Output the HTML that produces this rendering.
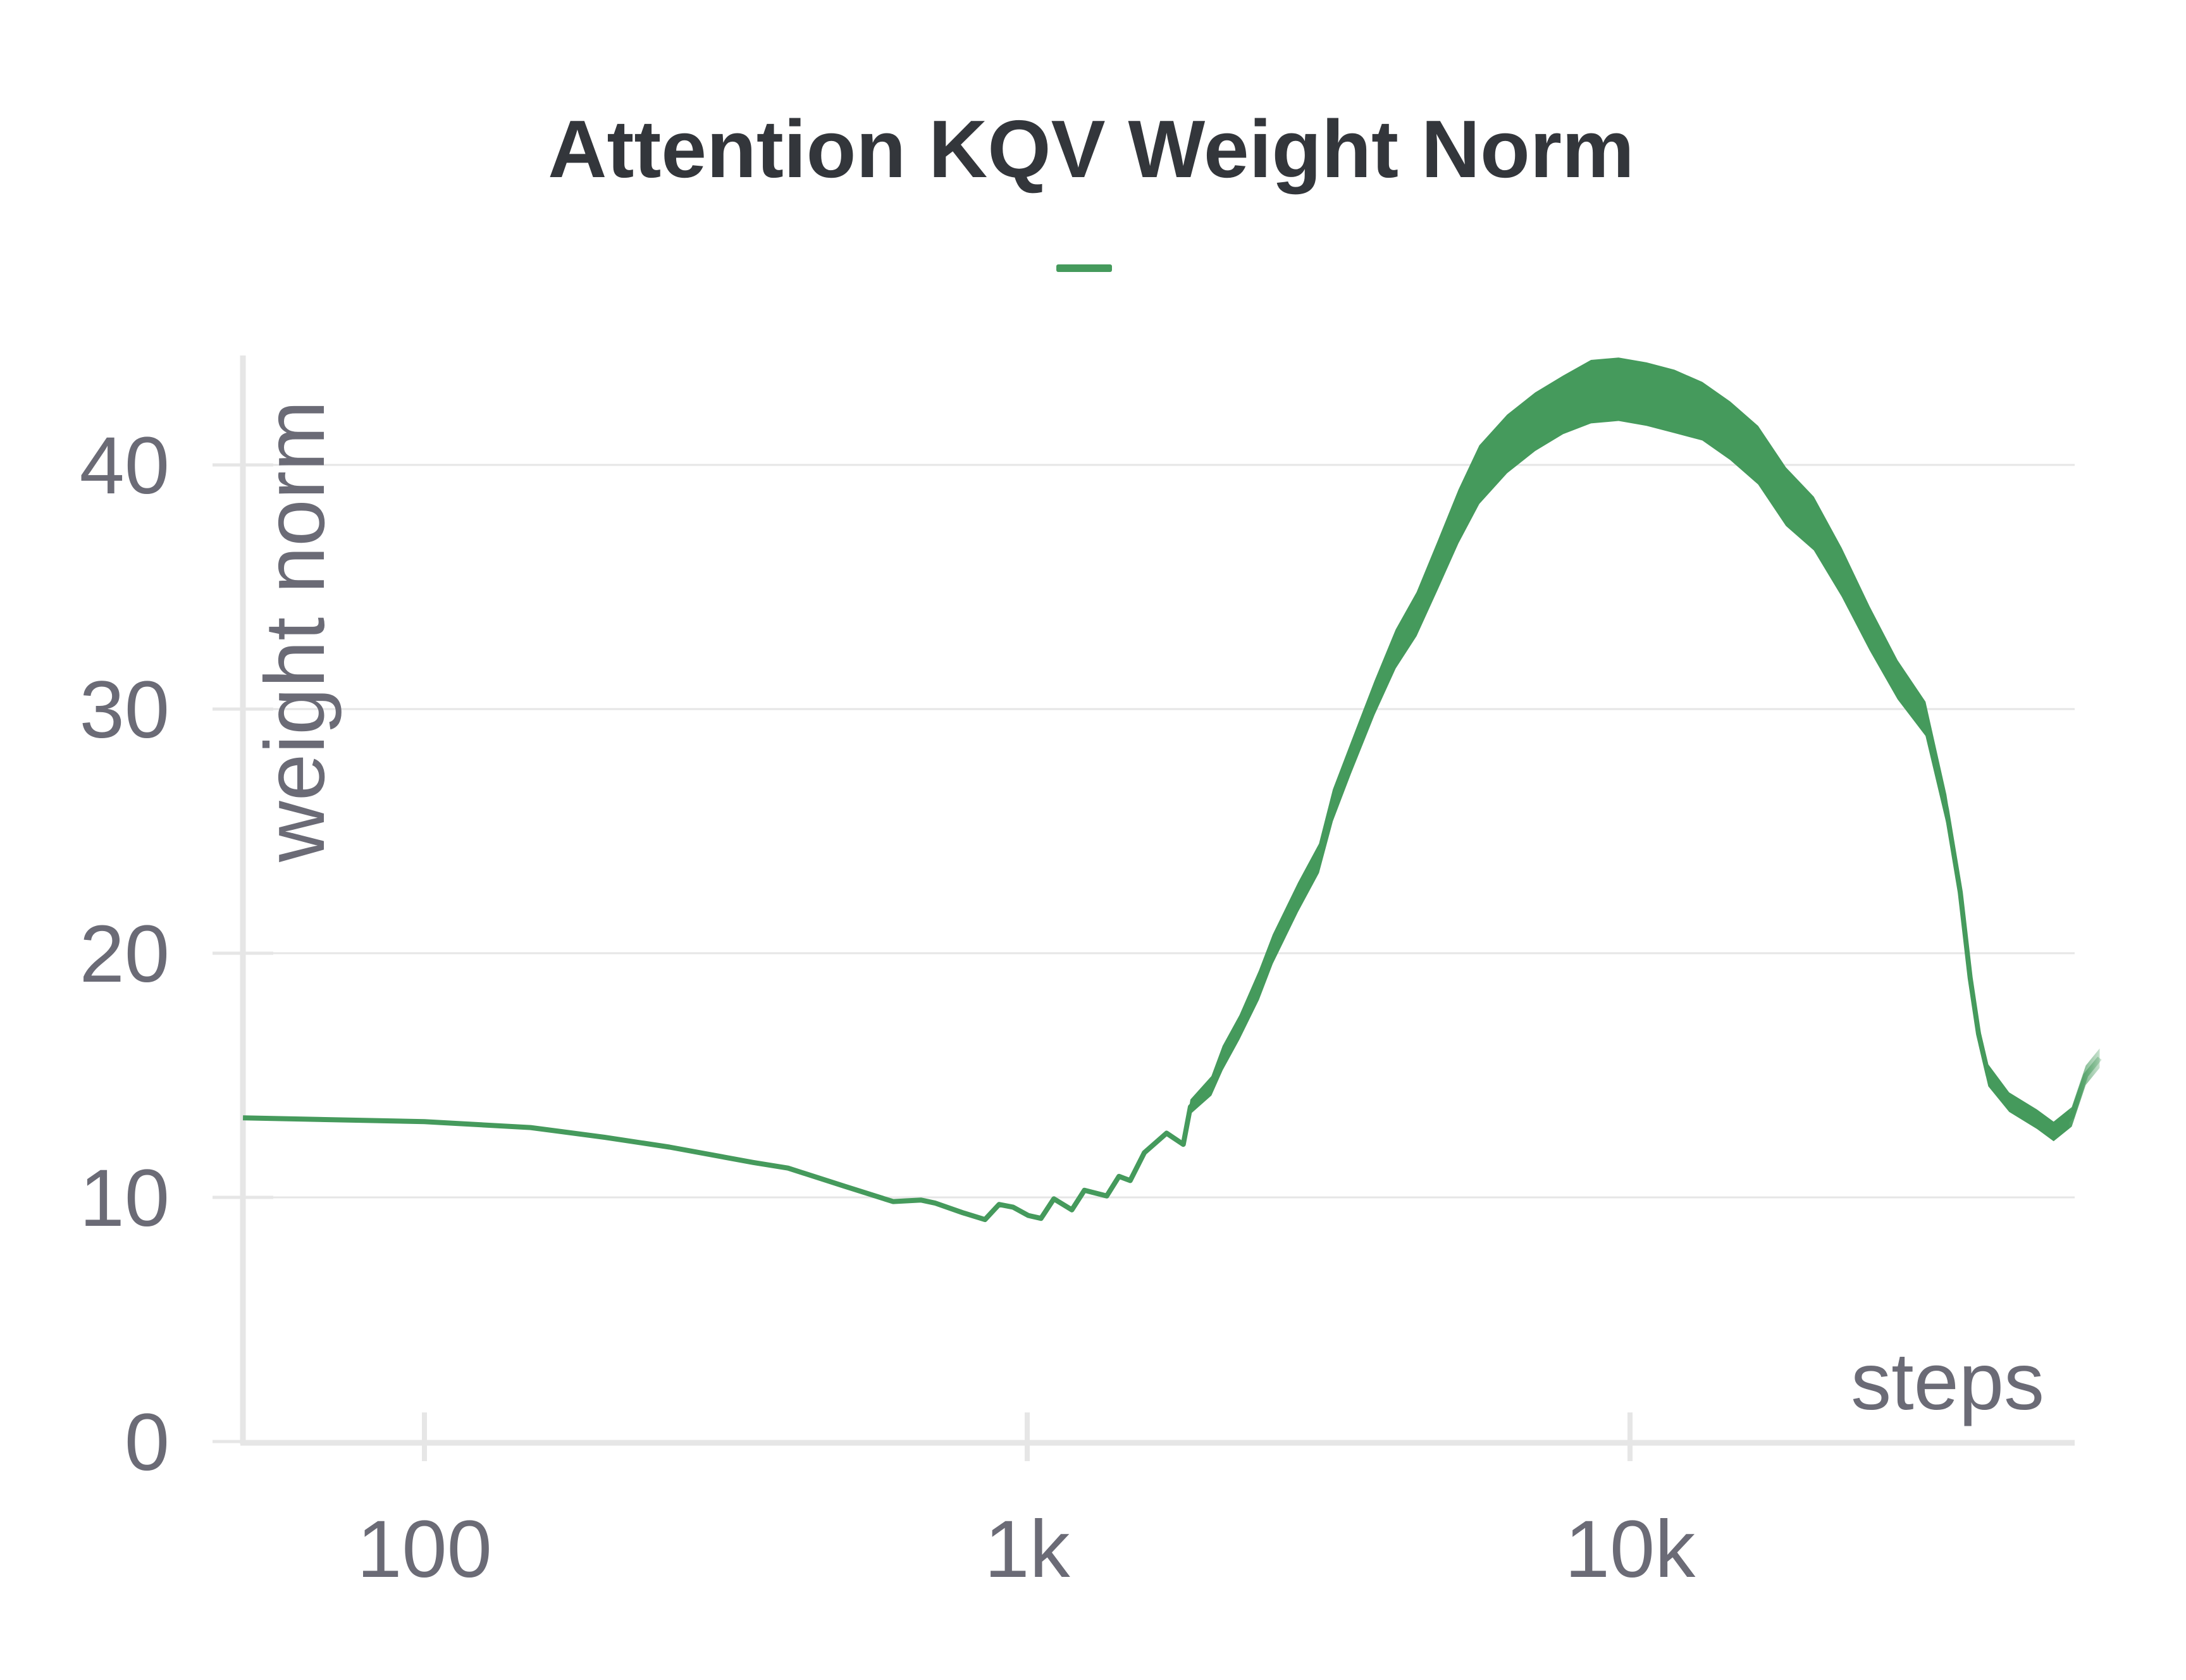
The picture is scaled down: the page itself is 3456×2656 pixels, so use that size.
<!DOCTYPE html>
<html><head><meta charset="utf-8"><style>
html,body{margin:0;padding:0;background:#fff;}
svg{display:block;}
text{font-family:"Liberation Sans",sans-serif;}
</style></head><body>
<svg id="chart" width="3456" height="2656" viewBox="0 0 3456 2656" xmlns="http://www.w3.org/2000/svg">
<defs>
<linearGradient id="fade" gradientUnits="userSpaceOnUse" x1="3270" y1="0" x2="3330" y2="0">
<stop offset="0" stop-color="#459a5c" stop-opacity="1"/>
<stop offset="1" stop-color="#459a5c" stop-opacity="0.15"/>
</linearGradient>
</defs>
<text x="1725" y="280" text-anchor="middle" font-size="129" font-weight="bold" fill="#33363b">Attention KQV Weight Norm</text>
<rect x="1670" y="418" width="88" height="12" rx="3" fill="#459a5c"/>
<g id="grid"></g>
<g id="axes"></g>
<g id="series"></g>
<text transform="translate(512,998) rotate(-90)" text-anchor="middle" font-size="134" fill="#6b6b76">weight norm</text>
<text x="3232" y="2228" text-anchor="end" font-size="128" fill="#6b6b76">steps</text>
</svg>
<script>
const steps=[50,100,150,199,255,351,401,497,599,666,703,782,851,898,947,1004,1054,1107,1186,1244,1355,1420,1482,1564,1703,1815,1865,2021,2110,2250,2423,2555,2813,3048,3214,3444,3769,4085,4426,4797,5193,5623,6254,6961,7744,8616,9572,10650,11850,13180,14660,16310,18140,20180,22450,24980,27790,30920,33490,35310,36660,37860,39290,42560,47330,50440,54060,57020,60140];
const normMid=[13.26,13.1,12.86,12.46,12.06,11.43,11.2,10.46,9.83,9.89,9.77,9.37,9.09,9.71,9.6,9.26,9.14,9.94,9.49,10.29,10.06,10.86,10.69,11.83,12.63,12.17,13.71,14.57,15.71,16.97,18.69,20.17,22.29,23.89,26.06,28,30.46,32.46,33.89,35.89,37.89,39.6,40.86,41.77,42.46,43.0,43.1,42.9,42.6,42.2,41.4,40.4,38.7,37.6,35.6,33.3,31.2,29.6,25.9,22.5,19.0,16.7,15.0,13.9,13.2,12.7,13.3,15.0,15.7];
const normSpread=[0,0,0,0,0,0,0,0,0,0,0,0,0,0,0,0,0,0,0,0,0,0,0,0,0,0,0.6,0.8,1.0,1.0,1.2,1.2,1.2,1.2,1.3,1.3,1.4,1.6,1.8,2.0,2.2,2.4,2.4,2.4,2.4,2.6,2.6,2.6,2.6,2.4,2.4,2.4,2.4,2.2,2.0,1.8,1.6,1.4,1.2,1.0,0.9,0.9,0.9,0.8,0.8,0.8,0.8,0.8,0.8];
const yTicks=[0,10,20,30,40];
const xTicks=[100,1000,10000];
const xTickLabels=["100","1k","10k"];

const NS="http://www.w3.org/2000/svg";
const X0=671, DEC=953, Y0=2279, YU=38.6;
const xs=v=>X0+(Math.log10(v)-2)*DEC;
const ys=v=>Y0-v*YU;
function mk(tag,attrs,parent){const e=document.createElementNS(NS,tag);for(const k in attrs)e.setAttribute(k,attrs[k]);parent.appendChild(e);return e;}
const grid=document.getElementById('grid'),axes=document.getElementById('axes'),ser=document.getElementById('series');
yTicks.forEach(t=>{
  if(t>0){const g=mk('line',{x1:386,x2:3280,y1:ys(t),y2:ys(t),stroke:'#e6e6e6','stroke-width':3},grid);
  
  }
  const tk=mk('line',{x1:336,x2:432,y1:ys(t),y2:ys(t),stroke:'#e6e6e6','stroke-width':5},axes);
  
  
  const lb=mk('text',{x:268,y:ys(t)+45,'text-anchor':'end','font-size':128,fill:'#6b6b76'},axes);
  lb.textContent=String(t);
  
  
});
xTicks.forEach((t,i)=>{
  const tk=mk('line',{x1:xs(t),x2:xs(t),y1:2233,y2:2310,stroke:'#e6e6e6','stroke-width':8},axes);
  
  
  const lb=mk('text',{x:xs(t),y:2493,'text-anchor':'middle','font-size':128,fill:'#6b6b76'},axes);
  lb.textContent=xTickLabels[i];
  
  
});
const ya=mk('line',{x1:384,x2:384,y1:562,y2:2283,stroke:'#e6e6e6','stroke-width':9},axes);


const xa=mk('line',{x1:380,x2:3280,y1:2281,y2:2281,stroke:'#e6e6e6','stroke-width':9},axes);



let up=[],lo=[];
steps.forEach((s,i)=>{up.push(xs(s).toFixed(1)+','+ys(normMid[i]+normSpread[i]/2).toFixed(1));lo.unshift(xs(s).toFixed(1)+','+ys(normMid[i]-normSpread[i]/2).toFixed(1));});
const band=mk('polygon',{points:up.concat(lo).join(' '),fill:'url(#fade)'},ser);


const line=mk('polyline',{points:steps.map((s,i)=>xs(s).toFixed(1)+','+ys(normMid[i]).toFixed(1)).join(' '),fill:'none',stroke:'url(#fade)','stroke-width':8,'stroke-linejoin':'round'},ser);


</script>
</body></html>
